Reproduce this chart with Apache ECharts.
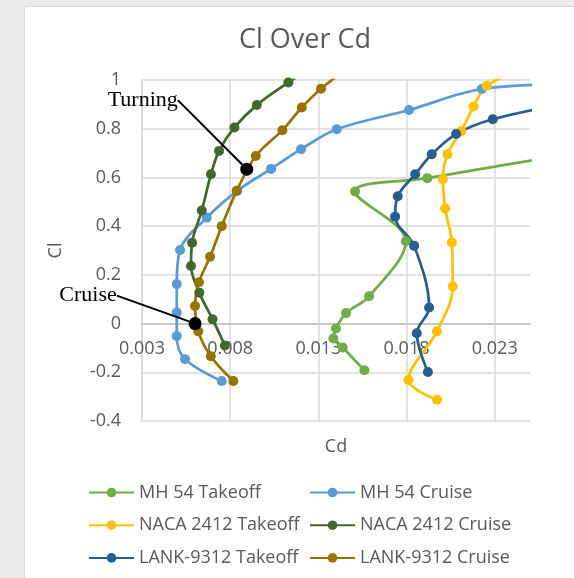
<!DOCTYPE html>
<html>
<head>
<meta charset="utf-8">
<script src="https://cdn.jsdelivr.net/npm/echarts@6/dist/echarts.min.js"></script>
<style>
  html, body { margin: 0; padding: 0; background: #ebebeb; }
  #chart { width: 574px; height: 578px; }
</style>
</head>
<body>
<div id="chart"></div>
<script>
// Lift coefficient vs drag coefficient polars, [Cd, Cl] pairs
const mh54Takeoff = [[0.01561,-0.192],[0.01438,-0.098],[0.01385,-0.061],[0.01400,-0.020],[0.01457,0.043],[0.01588,0.112],[0.01796,0.338],[0.01508,0.542],[0.01918,0.597],[0.03000,0.730]];
const mh54Cruise = [[0.00752,-0.236],[0.00544,-0.146],[0.00497,-0.051],[0.00497,0.045],[0.00497,0.162],[0.00516,0.302],[0.00667,0.435],[0.00840,0.545],[0.01032,0.635],[0.01202,0.716],[0.01404,0.798],[0.01814,0.877],[0.02227,0.963],[0.02800,0.985]];
const naca2412Takeoff = [[0.01973,-0.313],[0.01811,-0.232],[0.01972,-0.032],[0.02062,0.152],[0.02057,0.333],[0.02019,0.473],[0.02006,0.593],[0.02032,0.695],[0.02110,0.790],[0.02180,0.891],[0.02255,0.976],[0.02450,1.040]];
const naca2412Cruise = [[0.00770,-0.090],[0.00700,0.018],[0.00625,0.127],[0.00578,0.236],[0.00584,0.332],[0.00639,0.464],[0.00691,0.613],[0.00737,0.709],[0.00824,0.805],[0.00951,0.897],[0.01130,0.990],[0.01280,1.060]];
const lank9312Takeoff = [[0.01921,-0.199],[0.01858,-0.040],[0.01928,0.066],[0.01843,0.319],[0.01735,0.439],[0.01750,0.523],[0.01849,0.613],[0.01943,0.695],[0.02081,0.778],[0.02289,0.839],[0.02750,0.910]];
const lank9312Cruise = [[0.00818,-0.236],[0.00690,-0.134],[0.00619,-0.032],[0.00601,0.072],[0.00623,0.170],[0.00686,0.274],[0.00752,0.400],[0.00837,0.545],[0.00945,0.688],[0.01096,0.794],[0.01206,0.887],[0.01315,0.964],[0.01450,1.040]];

const seriesNames = ['MH 54 Takeoff','MH 54 Cruise','NACA 2412 Takeoff','NACA 2412 Cruise','LANK-9312 Takeoff','LANK-9312 Cruise'];
const seriesData = [mh54Takeoff, mh54Cruise, naca2412Takeoff, naca2412Cruise, lank9312Takeoff, lank9312Cruise];
const seriesColors = ['#70AD47','#5B9BD5','#FFC000','#43682B','#255E91','#997300'];

// Called-out operating points
const calloutNames = ['Turning','Cruise'];
const calloutPoints = [[0.00894,0.634],[0.00601,0.000]];
const calloutOffsets = [[-104,-69],[-107,-28]];

// Axis ticks
const cdTicks = [0.003,0.008,0.013,0.018,0.023];
const cdRange = [0.003,0.025];
const clRange = [-0.4,1];
const clStep = 0.2;

const textGray = '#595959';
const fontUI = '"Open Sans", "Noto Sans", sans-serif';

// Plot box
const gridBox = { left: 142, right: 44, top: 80, bottom: 157 };
const CHART_H = 578;
const plotHeight = CHART_H - gridBox.top - gridBox.bottom;
// Raise the Cd axis so it crosses the Cl axis at Cl = 0
const cdAxisLift = -plotHeight * (0 - clRange[0]) / (clRange[1] - clRange[0]);

const chart = echarts.init(document.getElementById('chart'), null, { renderer: 'canvas' });

const lineSeries = seriesNames.map((name, i) => ({
  name: name,
  type: 'line',
  data: seriesData[i],
  smooth: 0.35,
  symbol: 'circle',
  symbolSize: 10,
  showSymbol: true,
  clip: true,
  color: seriesColors[i],
  lineStyle: { width: 2.75, color: seriesColors[i] },
  itemStyle: { color: seriesColors[i] },
  emphasis: { disabled: true },
  animation: false
}));

const calloutSeries = {
  name: 'callouts',
  type: 'scatter',
  data: calloutPoints.map((p, i) => ({ value: p, name: calloutNames[i] })),
  symbol: 'circle',
  symbolSize: 13,
  itemStyle: { color: '#000', opacity: 1 },
  z: 5,
  label: {
    show: true,
    position: 'inside',
    formatter: '{b}',
    color: '#000',
    fontFamily: '"Liberation Serif", "DejaVu Serif", serif',
    fontSize: 22
  },
  labelLayout: function (p) {
    const o = calloutOffsets[p.dataIndex];
    return { dx: o[0], dy: o[1] };
  },
  labelLine: { show: true, lineStyle: { color: '#000', width: 2 } },
  emphasis: { disabled: true },
  animation: false
};

const legendCommon = {
  orient: 'vertical',
  padding: 0,
  itemWidth: 45,
  itemHeight: 12,
  itemGap: 12.7,
  textStyle: { color: textGray, fontFamily: fontUI, fontSize: 18, lineHeight: 20 },
  selectedMode: false
};

chart.setOption({
  backgroundColor: '#ebebeb',
  animation: false,
  graphic: [{
    type: 'rect',
    shape: { x: 24.5, y: 6.5, width: 560, height: 580 },
    style: { fill: '#ffffff', stroke: '#d9d9d9', lineWidth: 1 },
    z: -10,
    silent: true
  }],
  title: {
    text: 'Cl Over Cd',
    left: 300,
    textAlign: 'center',
    top: 22,
    textStyle: { color: textGray, fontFamily: fontUI, fontSize: 27, fontWeight: 'normal' }
  },
  legend: [
    Object.assign({ data: [seriesNames[0], seriesNames[2], seriesNames[4]], left: 88, top: 482.5 }, legendCommon),
    Object.assign({ data: [seriesNames[1], seriesNames[3], seriesNames[5]], left: 309, top: 482.5 }, legendCommon)
  ],
  grid: Object.assign({ containLabel: false }, gridBox),
  xAxis: {
    type: 'value',
    min: cdRange[0],
    max: cdRange[1],
    offset: cdAxisLift,
    name: 'Cd',
    nameLocation: 'middle',
    nameGap: 114,
    nameTextStyle: { color: textGray, fontFamily: fontUI, fontSize: 18 },
    axisLine: { show: true, onZero: false, lineStyle: { color: '#bfbfbf', width: 1.5 } },
    axisTick: { show: false, customValues: cdTicks },
    axisLabel: { customValues: cdTicks, color: textGray, fontFamily: fontUI, fontSize: 18, margin: 16, hideOverlap: false },
    splitLine: { show: true, lineStyle: { color: '#d9d9d9', width: 1.5 } }
  },
  yAxis: {
    type: 'value',
    min: clRange[0],
    max: clRange[1],
    interval: clStep,
    name: 'Cl',
    nameLocation: 'middle',
    nameGap: 77,
    nameTextStyle: { color: textGray, fontFamily: fontUI, fontSize: 18 },
    axisLine: { show: true, lineStyle: { color: '#d9d9d9', width: 1.5 } },
    axisTick: { show: false },
    axisLabel: { color: textGray, fontFamily: fontUI, fontSize: 18, margin: 21 },
    splitLine: { show: true, lineStyle: { color: '#d9d9d9', width: 1.5 } }
  },
  series: lineSeries.concat([calloutSeries])
});
</script>
</body>
</html>
